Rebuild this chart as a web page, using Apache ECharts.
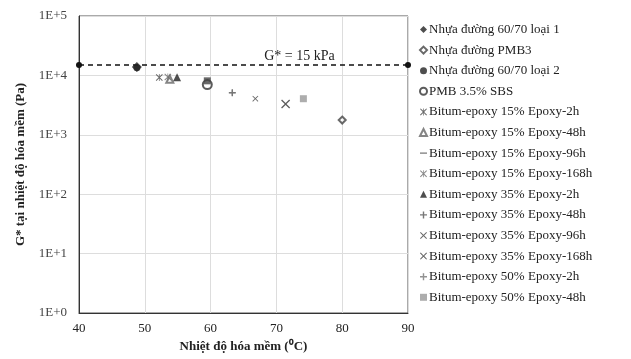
<!DOCTYPE html>
<html>
<head>
<meta charset="utf-8">
<script src="https://cdn.jsdelivr.net/npm/echarts@6/dist/echarts.min.js"></script>
<style>
  html, body { margin: 0; padding: 0; background: #fff; }
  #main { width: 631px; height: 359px; }
</style>
</head>
<body>
<div id="main"></div>
<script>
// dữ liệu
var seriesNames = [
  'Nhựa đường 60/70 loại 1', 'Nhựa đường PMB3', 'Nhựa đường 60/70 loại 2', 'PMB 3.5% SBS',
  'Bitum-epoxy 15% Epoxy-2h', 'Bitum-epoxy 15% Epoxy-48h', 'Bitum-epoxy 15% Epoxy-96h',
  'Bitum-epoxy 15% Epoxy-168h', 'Bitum-epoxy 35% Epoxy-2h', 'Bitum-epoxy 35% Epoxy-48h',
  'Bitum-epoxy 35% Epoxy-96h', 'Bitum-epoxy 35% Epoxy-168h', 'Bitum-epoxy 50% Epoxy-2h',
  'Bitum-epoxy 50% Epoxy-48h'
];
var softeningTemp = [48.8, 80.0, 48.8, 59.5, 52.2, 53.8, 59.5, 53.5, 54.9, 63.3, 66.8, 71.4, 63.3, 74.1];
var gStar = [13800, 1770, 13500, 7000, 9200, 8600, 8100, 9400, 9300, 5100, 4050, 3300, 5100, 4050];
var limitX = [40, 90];
var limitG = 15000;
var yTickLabels = { 1: '1E+0', 10: '1E+1', 100: '1E+2', 1000: '1E+3', 10000: '1E+4', 100000: '1E+5' };

var plus = 'path://M4,0H6V4H10V6H6V10H4V6H0V4H4Z';
var cross = 'path://M1,0L5,4L9,0L10,1L6,5L10,9L9,10L5,6L1,10L0,9L4,5L0,1Z';
var star = 'path://M1,0L4.5,3.5V0H5.5V3.5L9,0L10,1L6,5L10,9L9,10L5.5,6.5V10H4.5V6.5L1,10L0,9L4,5L0,1Z';
var dash = 'path://M0,4.2H10V5.8H0Z';
var symbols = ['diamond', 'emptyDiamond', 'circle', 'emptyCircle', star, 'emptyTriangle', dash,
  star, 'triangle', plus, cross, cross, plus, 'rect'];
var sizes = [10, 7, 7, 9, 7, 7, 7, 7, 8, 7, 6, 9, 6, 7];
var colors = ['#222', '#444', '#222', '#333', '#444', '#666', '#444', '#666', '#222', '#555', '#444', '#333', '#777', '#999'];

var serif = 'Liberation Serif';
var myChart = echarts.init(document.getElementById('main'), null, { renderer: 'canvas' });

var series = seriesNames.map(function (name, i) {
  return {
    name: name,
    type: 'scatter',
    symbol: symbols[i],
    symbolSize: sizes[i],
    itemStyle: { color: colors[i], borderWidth: 1.2 },
    data: [[softeningTemp[i], gStar[i]]],
    z: 3
  };
});
series.push({
  name: 'G*',
  type: 'line',
  data: [[limitX[0], limitG], [limitX[1], limitG]],
  symbol: 'circle',
  symbolSize: 6,
  itemStyle: { color: '#111' },
  lineStyle: { color: '#111', type: [5, 4], width: 1.5 },
  markPoint: {
    symbol: 'circle',
    symbolSize: 0,
    data: [{ coord: [73.5, limitG] }],
    label: {
      show: true, position: 'top', distance: 2, formatter: 'G* = 15 kPa',
      fontFamily: serif, fontSize: 14, color: '#222'
    }
  },
  z: 2
});

var option = {
  animation: false,
  grid: { left: 79, right: 223, top: 16, bottom: 46 },
  legend: {
    data: seriesNames,
    orient: 'vertical',
    left: 414,
    top: 18,
    itemWidth: 7,
    itemHeight: 7,
    itemGap: 7.6,
    textStyle: { fontFamily: serif, fontSize: 13, color: '#222', padding: [0, 0, 0, -3] }
  },
  xAxis: {
    type: 'value', min: 40, max: 90, interval: 10,
    name: 'Nhiệt độ hóa mềm (⁰C)', nameLocation: 'middle', nameGap: 24,
    nameTextStyle: { fontFamily: serif, fontSize: 13, fontWeight: 'bold', color: '#222' },
    axisLine: { lineStyle: { color: '#333' } },
    axisTick: { show: false },
    axisLabel: { fontFamily: serif, fontSize: 13, color: '#222', margin: 9 },
    splitLine: { lineStyle: { color: '#ddd' } }
  },
  yAxis: {
    type: 'log', logBase: 10, min: 1, max: 100000,
    name: 'G* tại nhiệt độ hóa mềm (Pa)', nameLocation: 'middle', nameGap: 52,
    nameTextStyle: { fontFamily: serif, fontSize: 13, fontWeight: 'bold', color: '#222' },
    axisLine: { show: true, lineStyle: { color: '#333' } },
    axisTick: { show: false },
    axisLabel: {
      fontFamily: serif, fontSize: 13, color: '#444', margin: 12,
      formatter: function (v) { return yTickLabels[Math.round(v)] || ''; }
    },
    splitLine: { lineStyle: { color: '#ddd' } }
  },
  series: series,
  graphic: [{
    type: 'rect', shape: { x: 79, y: 16, width: 329, height: 297 },
    style: { fill: 'none', stroke: '#555', lineWidth: 1 }, silent: true, z: 0
  }]
};
myChart.setOption(option);
</script>
</body>
</html>
